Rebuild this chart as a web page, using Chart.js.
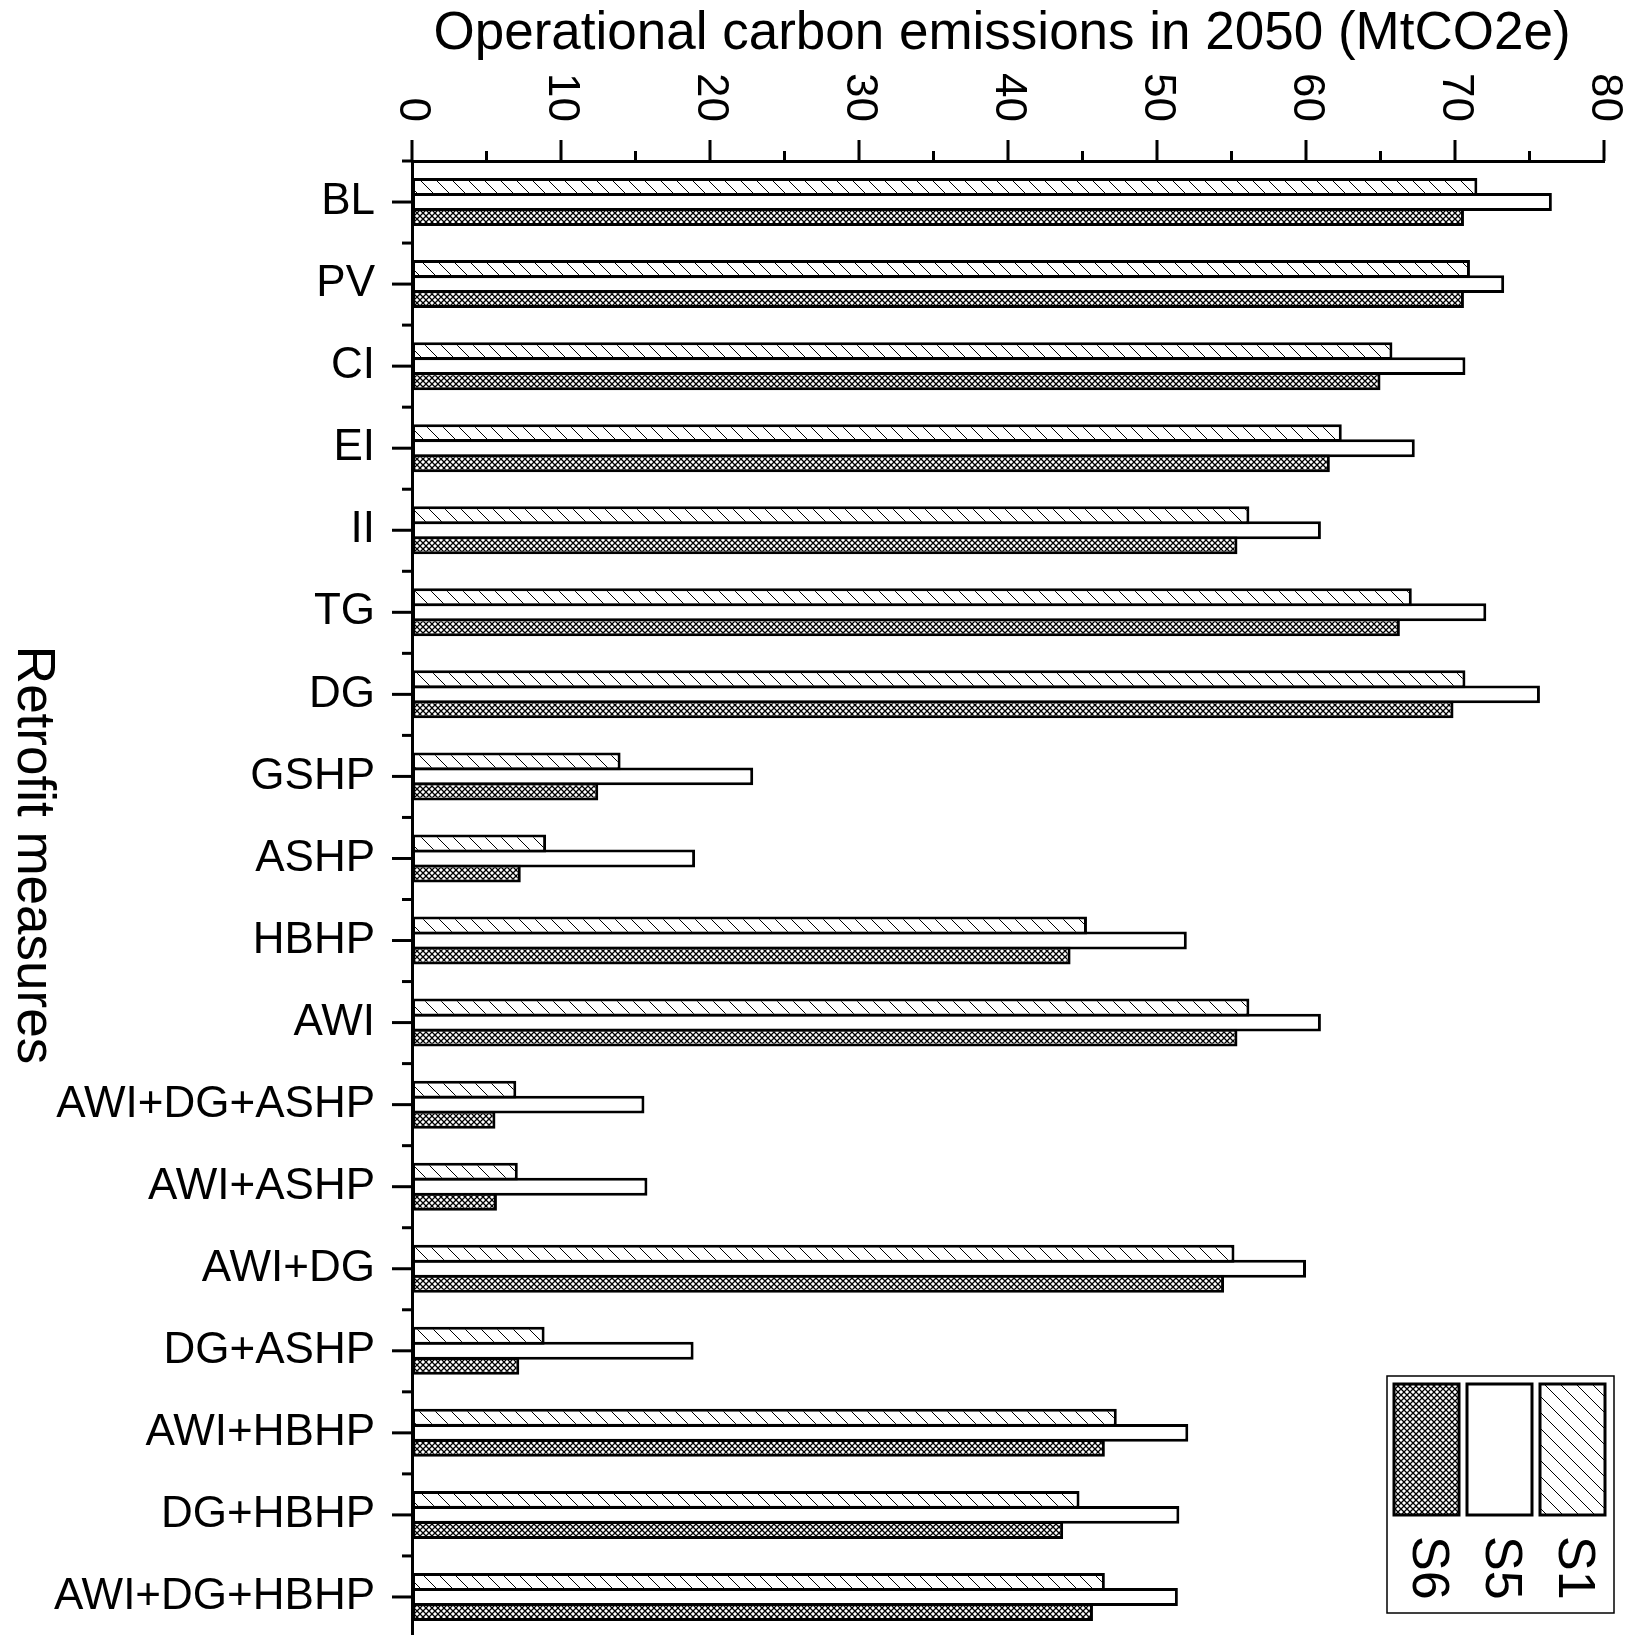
<!DOCTYPE html>
<html>
<head>
<meta charset="utf-8">
<script src="https://cdn.jsdelivr.net/npm/chart.js@4.4.1/dist/chart.umd.min.js"></script>
<style>
  html, body { margin: 0; padding: 0; background: #fff; overflow: hidden; }
</style>
</head>
<body>
<canvas id="myChart" width="1627" height="1640"></canvas>
<script>
var categories = ['BL', 'PV', 'CI', 'EI', 'II', 'TG', 'DG', 'GSHP', 'ASHP', 'HBHP', 'AWI',
  'AWI+DG+ASHP', 'AWI+ASHP', 'AWI+DG', 'DG+ASHP', 'AWI+HBHP', 'DG+HBHP', 'AWI+DG+HBHP'];
var seriesNames = ['S1', 'S5', 'S6'];
var s1 = [71.5, 71.0, 65.8, 62.4, 56.2, 67.1, 70.7, 14.0, 9.0, 45.3, 56.2, 7.0, 7.1, 55.2, 8.9, 47.3, 44.8, 46.5];
var s5 = [76.5, 73.3, 70.7, 67.3, 61.0, 72.1, 75.7, 22.9, 19.0, 52.0, 61.0, 15.6, 15.8, 60.0, 18.9, 52.1, 51.5, 51.4];
var s6 = [70.6, 70.6, 65.0, 61.6, 55.4, 66.3, 69.9, 12.5, 7.3, 44.2, 55.4, 5.6, 5.7, 54.5, 7.2, 46.5, 43.7, 45.7];
var xTicks = [0, 10, 20, 30, 40, 50, 60, 70, 80];
var xTitle = 'Operational carbon emissions in 2050 (MtCO2e)';
var yTitle = 'Retrofit measures';

var FONT = "'Liberation Sans', Arial, sans-serif";
var ctx = document.getElementById('myChart');
var mainCtx = ctx.getContext('2d');

// diagonal "\\\" hatch for S1
function makeHatch() {
  var c = document.createElement('canvas');
  c.width = 16; c.height = 16;
  var g = c.getContext('2d');
  g.fillStyle = '#fff';
  g.fillRect(0, 0, 16, 16);
  g.strokeStyle = '#000';
  g.lineWidth = 1;
  g.beginPath();
  g.moveTo(-2, -2); g.lineTo(18, 18);
  g.moveTo(-2, 14); g.lineTo(2, 18);
  g.moveTo(14, -2); g.lineTo(18, 2);
  g.stroke();
  return mainCtx.createPattern(c, 'repeat');
}

// fine crosshatch for S6
function makeCross() {
  var c = document.createElement('canvas');
  c.width = 6; c.height = 6;
  var g = c.getContext('2d');
  g.fillStyle = '#fff';
  g.fillRect(0, 0, 6, 6);
  g.strokeStyle = '#000';
  g.lineWidth = 1.3;
  g.beginPath();
  g.moveTo(-1, -1); g.lineTo(7, 7);
  g.moveTo(7, -1); g.lineTo(-1, 7);
  g.stroke();
  return mainCtx.createPattern(c, 'repeat');
}

var fills = [makeHatch(), '#ffffff', makeCross()];
var values = [s1, s5, s6];

var decorations = {
  id: 'decorations',
  afterDraw: function (chart) {
    var c = chart.ctx, area = chart.chartArea;
    var xs = chart.scales.x, ys = chart.scales.y;
    c.save();
    c.strokeStyle = '#000';
    c.fillStyle = '#000';
    c.lineWidth = 3;

    // x ticks (major + minor), pointing up
    for (var i = 0; i < xTicks.length; i++) {
      var px = xs.getPixelForValue(xTicks[i]);
      c.beginPath(); c.moveTo(px, area.top); c.lineTo(px, area.top - 21); c.stroke();
      if (i < xTicks.length - 1) {
        var pm = xs.getPixelForValue((xTicks[i] + xTicks[i + 1]) / 2);
        c.beginPath(); c.moveTo(pm, area.top); c.lineTo(pm, area.top - 10); c.stroke();
      }
    }
    // y ticks, pointing left
    for (var j = 0; j < categories.length; j++) {
      var py = ys.getPixelForValue(j);
      c.beginPath(); c.moveTo(area.left - 20, py); c.lineTo(area.left, py); c.stroke();
      var pb = ys.getPixelForValue(j - 0.5);
      c.beginPath(); c.moveTo(area.left - 10, pb); c.lineTo(area.left, pb); c.stroke();
    }

    // rotated x tick labels
    c.font = '44px ' + FONT;
    xTicks.forEach(function (t) {
      var px = xs.getPixelForValue(t);
      c.save();
      c.translate(px, area.top - 39);
      c.rotate(Math.PI / 2);
      c.textAlign = 'right';
      c.textBaseline = 'middle';
      c.fillText(String(t), 0, 0);
      c.restore();
    });

    // axis titles
    c.font = '53px ' + FONT;
    c.textAlign = 'center';
    c.textBaseline = 'alphabetic';
    c.fillText(xTitle, (area.left + area.right) / 2 - 6, 49);

    c.save();
    c.translate(33, 855);
    c.rotate(Math.PI / 2);
    c.textBaseline = 'middle';
    c.fillText(yTitle, 0, 0);
    c.restore();

    // legend box (rotated layout: S6, S5, S1)
    c.lineWidth = 1.5;
    c.strokeRect(1387, 1376, 227, 237);
    var px0 = [1540, 1467, 1394];
    c.font = '52px ' + FONT;
    for (var k = 0; k < seriesNames.length; k++) {
      c.fillStyle = fills[k];
      c.fillRect(px0[k], 1384, 65, 131);
      c.lineWidth = 3;
      c.strokeRect(px0[k], 1384, 65, 131);
      c.fillStyle = '#000';
      c.save();
      c.translate(px0[k] + 33, 1536);
      c.rotate(Math.PI / 2);
      c.textAlign = 'left';
      c.textBaseline = 'middle';
      c.fillText(seriesNames[k], 0, 0);
      c.restore();
    }
    c.restore();
  }
};

var myChart = new Chart(ctx, {
  type: 'bar',
  data: {
    labels: categories,
    datasets: seriesNames.map(function (name, k) {
      return {
        label: name,
        data: values[k],
        backgroundColor: fills[k],
        borderColor: '#000',
        borderWidth: 3,
        borderSkipped: false,
        barPercentage: 1.19,
        categoryPercentage: 0.55
      };
    })
  },
  options: {
    indexAxis: 'y',
    responsive: false,
    animation: false,
    layout: { padding: { left: 0, top: 0, right: 23, bottom: 2 } },
    plugins: {
      legend: { display: false },
      tooltip: { enabled: false },
      title: { display: false }
    },
    scales: {
      x: {
        position: 'top',
        min: 0,
        max: 80,
        grid: { display: false, drawTicks: false },
        border: { display: true, color: '#000', width: 3 },
        ticks: { display: false, stepSize: 10 },
        afterFit: function (s) { s.height = 161; s.paddingLeft = 0; s.paddingRight = 0; }
      },
      y: {
        grid: { display: false, drawTicks: false },
        border: { display: true, color: '#000', width: 3 },
        ticks: {
          color: '#000',
          padding: 37,
          autoSkip: false,
          font: { family: FONT, size: 44 }
        },
        afterFit: function (s) { s.width = 412; s.paddingTop = 0; s.paddingBottom = 0; }
      }
    }
  },
  plugins: [decorations]
});
</script>
</body>
</html>
